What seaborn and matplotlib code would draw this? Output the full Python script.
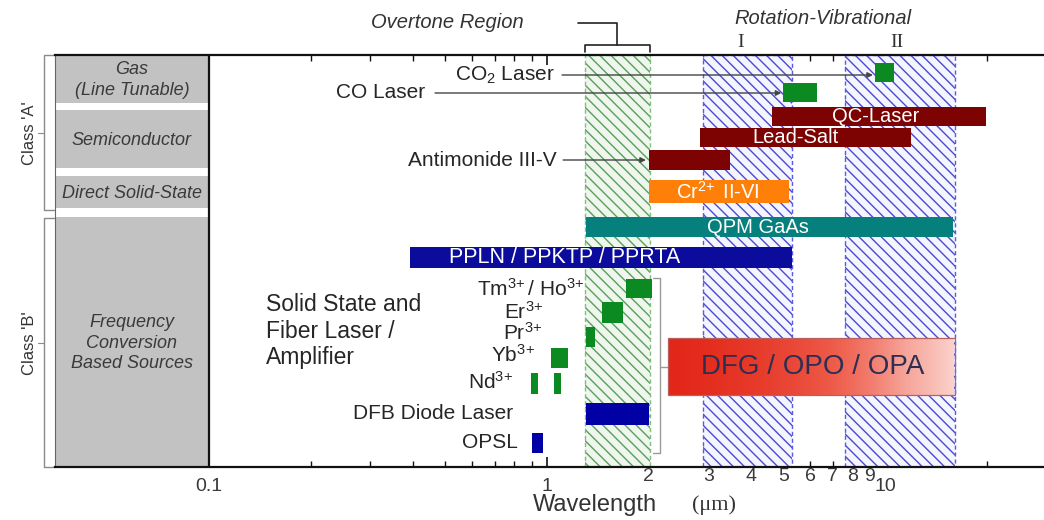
import numpy as np
import pandas as pd
import matplotlib
matplotlib.use('Agg')
import matplotlib.pyplot as plt
from matplotlib.patches import Rectangle
from matplotlib.colors import LinearSegmentedColormap
from matplotlib.transforms import blended_transform_factory
import seaborn as sns

# laser source bands, wavelength range in um
sources = ['CO2 Laser', 'CO Laser', 'QC-Laser', 'Lead-Salt', 'Antimonide III-V', 'Cr II-VI',
           'QPM GaAs', 'PPLN / PPKTP / PPRTA', 'Tm/Ho', 'Er', 'Pr', 'Yb', 'Nd a', 'Nd b',
           'DFB Diode Laser', 'OPSL']
start_um = [9.34, 5.0, 4.63, 2.84, 2.0, 2.0, 1.3, 0.393, 1.71, 1.45, 1.305, 1.03, 0.897, 1.05, 1.305, 0.903]
end_um = [10.63, 6.29, 19.9, 11.9, 3.48, 5.2, 15.9, 5.31, 2.04, 1.68, 1.387, 1.15, 0.942, 1.10, 2.0, 0.973]
kind = ['gas', 'gas', 'semi', 'semi', 'semi', 'solid', 'qpm', 'ppln', 'rare', 'rare', 'rare', 'rare',
        'rare', 'rare', 'diode', 'diode']
bar_text = ['', '', 'QC-Laser', 'Lead-Salt', '', 'Cr$^{2\\!+}$ II-VI', 'QPM GaAs', 'PPLN / PPKTP / PPRTA',
            '', '', '', '', '', '', '', '']

# spectral regions
region_names = ['Overtone', 'Rot-Vib I', 'Rot-Vib II']
region_start = [1.296, 2.89, 7.61]
region_end = [2.015, 5.31, 16.1]

# DFG / OPO / OPA range
dfg_range = [2.28, 16.1]

# source classes in the grey column
class_labels = ['Gas\n(Line Tunable)', 'Semiconductor', 'Direct Solid-State',
                'Frequency\nConversion\nBased Sources']

minor_ticks = [2, 3, 4, 5, 6, 7, 8, 9]
minor_tick_labels = ['2', '3', '4', '5', '6', '7', '8', '9']

# layout (row centres/heights, measured downward from the top of the plot)
row_y = [17.5, 37.5, 61.5, 82.5, 105, 136.5, 172, 202.5, 233.5, 257.5, 282, 303, 328.5, 328.5, 359, 388]
row_h = [19, 19, 19, 19, 20, 23, 20, 21, 19, 21, 20, 20, 21, 21, 22, 20]
class_bands = [(0, 48), (55, 113), (121, 153), (162, 412)]

colors = {'gas': '#0b8a22', 'semi': '#7d0202', 'solid': '#ff8008', 'qpm': '#06807c',
          'ppln': '#0c0c9c', 'rare': '#0b8a22', 'diode': '#0000a4'}

df = pd.DataFrame({'source': sources, 'start': start_um, 'end': end_um, 'kind': kind,
                   'text': bar_text, 'y': row_y, 'h': row_h})

sns.set_theme(style='white')
plt.rcParams['font.family'] = ['Liberation Sans', 'DejaVu Sans']
plt.rcParams['mathtext.default'] = 'regular'
plt.rcParams['hatch.linewidth'] = 1.0

fig = plt.figure(figsize=(10.44, 5.2), dpi=100)
ax = fig.add_axes([55 / 1044, 53 / 520, 989 / 1044, 412 / 520])
ax.set_xscale('log')
xmin, xmax = 0.035, 29.5
txt = '#262626'

# grey class column
for (y0, y1), lab in zip(class_bands, class_labels):
    ax.add_patch(Rectangle((xmin, y0), 0.1 - xmin, y1 - y0, facecolor='#c2c2c2', edgecolor='none', zorder=1))
    ax.text(0.0591, (y0 + y1) / 2 + 1, lab, ha='center', va='center', fontsize=13, style='italic',
            color='#3a3a3a', linespacing=1.3, zorder=2)
ax.axvline(0.1, color='#111111', lw=1.6, zorder=2)

# hatched spectral regions
hatch_style = [('#eef6ee', '#5a9e5a', '#7fc07f'), ('#f5f5ff', '#4a4ad2', '#5a5ae6'), ('#f5f5ff', '#4a4ad2', '#5a5ae6')]
for x0, x1, (fc, hc, bc) in zip(region_start, region_end, hatch_style):
    ax.add_patch(Rectangle((x0, 0), x1 - x0, 412, facecolor=fc, edgecolor=hc, hatch='\\\\\\', lw=0, zorder=1))
    ax.add_patch(Rectangle((x0, 0), x1 - x0, 412, facecolor='none', edgecolor=bc, ls=(0, (3, 2)), lw=1.0, zorder=1.5))

# source bars
ax.barh(df['y'], df['end'] - df['start'], left=df['start'], height=df['h'],
        color=[colors[k] for k in df['kind']], edgecolor='none', zorder=3)
text_x = {'PPLN / PPKTP / PPRTA': 1.13, 'QC-Laser': 9.4, 'Lead-Salt': 5.42, 'Cr II-VI': 3.2, 'QPM GaAs': 4.21}
for _, r in df[df['text'] != ''].iterrows():
    fs = 15.5 if r['source'] == 'PPLN / PPKTP / PPRTA' else 14.5
    ax.text(text_x[r['source']], r['y'], r['text'], ha='center', va='center', color='white', fontsize=fs, zorder=4)

# DFG / OPO / OPA gradient box
cmap = LinearSegmentedColormap.from_list('dfg', ['#e22618', '#ee5a48', '#f6a59a', '#fbd4cd'])
grad = np.linspace(0, 1, 256).reshape(1, -1)
ax.imshow(grad, cmap=cmap, aspect='auto', extent=(dfg_range[0], dfg_range[1], 340, 283),
          origin='lower', zorder=3, interpolation='bilinear')
ax.add_patch(Rectangle((dfg_range[0], 283), dfg_range[1] - dfg_range[0], 57, facecolor='none',
                       edgecolor='#b86060', lw=0.9, zorder=3.5))
ax.text(6.12, 311.5, 'DFG / OPO / OPA', ha='center', va='center', fontsize=20, color='#2e2e52', zorder=4)

# labels with arrows
arrow_kw = dict(arrowstyle='-|>', color='#444444', lw=1.0, mutation_scale=8, shrinkA=0, shrinkB=0)
ax.annotate('', xy=(9.2, 20), xytext=(1.107, 20), arrowprops=arrow_kw, zorder=2)
ax.text(1.056, 20, 'CO$_2$ Laser', ha='right', va='center', fontsize=15, color=txt)
ax.annotate('', xy=(4.93, 38), xytext=(0.466, 38), arrowprops=arrow_kw, zorder=2)
ax.text(0.436, 37, 'CO Laser', ha='right', va='center', fontsize=15, color=txt)
ax.annotate('', xy=(1.96, 105), xytext=(1.115, 105), arrowprops=arrow_kw, zorder=2)
ax.text(1.07, 105, 'Antimonide III-V', ha='right', va='center', fontsize=15, color=txt)

ax.text(0.1475, 276, 'Solid State and\nFiber Laser /\nAmplifier', ha='left', va='center',
        fontsize=16.5, color=txt, linespacing=1.2)
side_labels = [('Tm$^{3\\!+}$/ Ho$^{3\\!+}$', 1.296, 234), ('Er$^{3\\!+}$', 0.973, 257),
               ('Pr$^{3\\!+}$', 0.97, 278), ('Yb$^{3\\!+}$', 0.92, 300), ('Nd$^{3\\!+}$', 0.793, 327),
               ('DFB Diode Laser', 0.793, 358), ('OPSL', 0.82, 387)]
for lab, x, y in side_labels:
    ax.text(x, y, lab, ha='right', va='center', fontsize=15, color=txt)

# bracket joining the solid-state sources to DFG box
bc = '#9a9a9a'
ax.plot([2.06, 2.16, 2.16, 2.06], [223, 223, 398, 398], color=bc, lw=1.0, zorder=2)
ax.plot([2.16, 2.28], [312, 312], color=bc, lw=1.0, zorder=2)

# overtone bracket above the plot
ax.plot([1.296, 1.296, 2.015, 2.015], [-3, -10, -10, -3], color='#222222', lw=1.2, clip_on=False)
ax.plot([1.61, 1.61, 1.235], [-10, -32, -32], color='#222222', lw=1.2, clip_on=False)
ax.text(0.85, -33, 'Overtone Region', ha='right', va='center', fontsize=14.5, style='italic', color='#333333')
ax.text(6.55, -37, 'Rotation-Vibrational', ha='center', va='center', fontsize=14.5, style='italic', color='#333333')
ax.text(3.73, -13, 'I', ha='center', va='center', fontsize=14, family='Liberation Serif', color='#333333')
ax.text(10.85, -13, 'II', ha='center', va='center', fontsize=14, family='Liberation Serif', color='#333333')

# class brackets on the left
tr = blended_transform_factory(ax.transAxes, ax.transData)
cc = '#8a8a8a'
for y0, y1, ym, lab in [(0, 155, 78, "Class 'A'"), (163, 412, 288, "Class 'B'")]:
    ax.plot([-0.001, -0.0111, -0.0111, -0.001], [y0, y0, y1, y1], color=cc, lw=1.0, transform=tr, clip_on=False)
    ax.plot([-0.0172, -0.0111], [ym, ym], color=cc, lw=0.8, transform=tr, clip_on=False)
    ax.text(-0.0253, ym, lab, rotation=90, ha='center', va='center', fontsize=12, color='#333333',
            transform=tr, clip_on=False)

# axes and ticks
ax.set_xlim(xmin, xmax)
ax.set_ylim(412, 0)
ax.set_yticks([])
ax.set_xticks([0.1, 1, 10])
ax.set_xticklabels(['0.1', '1', '10'])
ax.set_xticks(minor_ticks + [0.2, 0.3, 0.4, 0.5, 0.6, 0.7, 0.8, 0.9, 20], minor=True)
ax.set_xticklabels(minor_tick_labels + [''] * 9, minor=True)
ax.tick_params(axis='x', which='both', direction='in', top=True, bottom=True, colors='#111111',
               labelcolor='#3a3a3a')
ax.tick_params(axis='x', which='major', length=7, width=1.2, labelsize=14, pad=8)
ax.tick_params(axis='x', which='minor', length=4, width=1.0, labelsize=14, pad=1)
for s in ['top', 'bottom']:
    ax.spines[s].set_color('#111111')
    ax.spines[s].set_linewidth(1.6)
ax.spines['left'].set_color('#666666')
ax.spines['left'].set_linewidth(0.8)
ax.spines['right'].set_visible(False)
ax.set_zorder(1)

ax.text(0.5456, -0.092, 'Wavelength', transform=ax.transAxes, ha='center', va='center', fontsize=17, color='#333333')
ax.text(0.6665, -0.092, '(\u03bcm)', transform=ax.transAxes, ha='center', va='center', fontsize=16,
        family='Liberation Serif', color='#333333')

fig.savefig('out.png', dpi=100)
